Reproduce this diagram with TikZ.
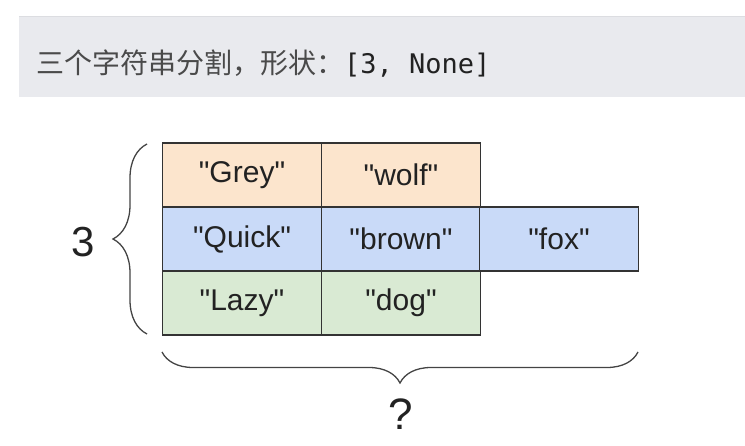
\documentclass[tikz,border=0pt]{standalone}
\usepackage{fontspec}
\setmainfont{Liberation Sans}[Ligatures=TeXOff]
\newfontfamily\cjkfont{Noto Sans CJK SC}
\newfontfamily\codefont{DejaVu Sans Mono}
\usetikzlibrary{decorations.pathreplacing}
\definecolor{bannergray}{HTML}{E9EAEE}
\definecolor{bannerline}{HTML}{DCDDE1}
\definecolor{bannertext}{HTML}{4A4A4A}
\definecolor{codetext}{HTML}{222222}
\definecolor{lorange}{HTML}{FCE5CD}
\definecolor{lblue}{HTML}{C9DAF8}
\definecolor{lgreen}{HTML}{D9EAD3}
\definecolor{cellline}{HTML}{333333}
\definecolor{celltext}{HTML}{222222}
\definecolor{bracecol}{HTML}{444444}
\tikzstyle{cell}=[rectangle, draw=cellline, line width=1.3pt, inner sep=0pt, minimum width=159pt, minimum height=64pt, text=celltext, font=\fontsize{30}{34}\selectfont]
\tikzstyle{orangecell}=[cell, fill=lorange]
\tikzstyle{bluecell}=[cell, fill=lblue]
\tikzstyle{greencell}=[cell, fill=lgreen]
\tikzstyle{bracket}=[decorate, draw=bracecol, line width=1.3pt]
\tikzstyle{biglabel}=[text=celltext, font=\fontsize{42}{48}\selectfont, inner sep=0pt]

\begin{document}
\begin{tikzpicture}[x=1pt, y=-1pt]
    \useasboundingbox (0, 0) rectangle (745, 446);
    % banner
    \fill [bannergray] (19, 16) rectangle (745, 97);
    \draw [bannerline, line width=1pt] (19, 16.5) -- (745, 16.5);
    \node [anchor=base west, inner sep=0pt, text=bannertext] (caption) at (36, 74)
        {\cjkfont\fontsize{28}{32}\selectfont 三个字符串分割，形状：\color{codetext}\codefont\fontsize{27}{32}\selectfont[3, None]};
    % table
    \node [style=orangecell] (grey) at (242, 175) {"Grey"};
    \node [style=orangecell] (wolf) at (401, 175) {"wolf"};
    \node [style=bluecell] (quick) at (242, 239) {"Quick"};
    \node [style=bluecell] (brown) at (401, 239) {"brown"};
    \node [style=bluecell] (fox) at (559, 239) {"fox"};
    \node [style=greencell] (lazy) at (242, 303) {"Lazy"};
    \node [style=greencell] (dog) at (401, 303) {"dog"};
    % braces
    \coordinate (rowsbot) at (147, 334);
    \coordinate (rowstop) at (147, 144);
    \coordinate (colsleft) at (162, 352);
    \coordinate (colsright) at (638, 352);
    \draw [style=bracket, decoration={brace, amplitude=34pt}] (rowsbot) to (rowstop);
    \draw [style=bracket, decoration={brace, amplitude=31pt}] (colsright) to (colsleft);
    \node [style=biglabel] (rows) at (83, 242) {3};
    \node [style=biglabel, font=\fontsize{44}{50}\selectfont] (cols) at (401, 414) {?};
\end{tikzpicture}
\end{document}
